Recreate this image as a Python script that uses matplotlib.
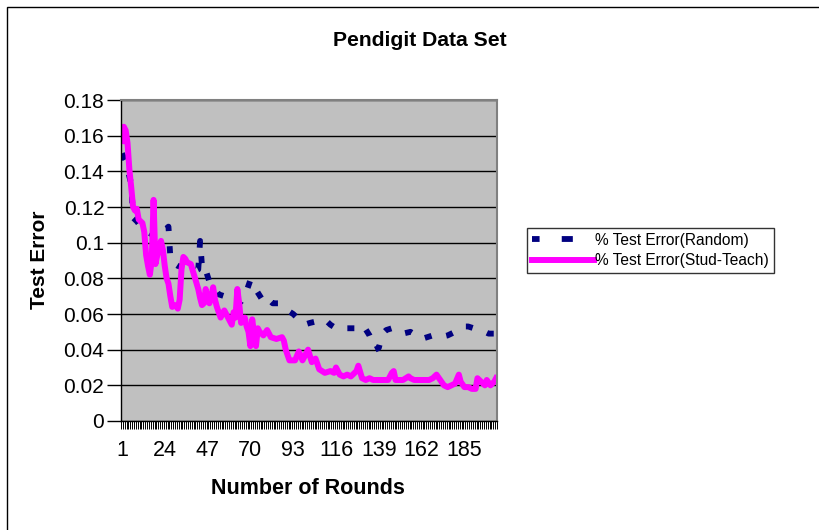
import matplotlib
matplotlib.use('Agg')
import matplotlib.pyplot as plt
from matplotlib.patches import Rectangle
from matplotlib.lines import Line2D
import numpy as np

plt.rcParams['font.family'] = ['Liberation Sans', 'DejaVu Sans']

n_rounds = 202

# % Test Error(Stud-Teach): (round, error)
teach_rounds = [1, 2, 3, 4, 5, 6, 7, 8, 9, 10, 12, 13, 14, 15, 16, 17, 18, 19, 20, 21,
                22, 23, 24, 25, 26, 27, 28, 30, 31, 32, 33, 34, 35, 36, 38, 40, 42, 43, 44, 45,
                46, 47, 48, 49, 50, 51, 52, 54, 55, 56, 57, 58, 60, 61, 62, 63, 64, 65, 66, 67,
                68, 69, 70, 71, 72, 73, 74, 75, 77, 79, 81, 84, 87, 88, 89, 91, 94, 96, 98, 100,
                101, 103, 105, 107, 110, 113, 115, 116, 117, 118, 120, 122, 124, 126, 127, 128, 130, 132, 134, 136,
                138, 140, 142, 144, 146, 147, 148, 150, 152, 155, 156, 158, 161, 163, 166, 168, 170, 172, 174, 176,
                178, 180, 182, 183, 185, 187, 189, 191, 192, 194, 196, 197, 199, 201, 202]
teach_err = [0.157, 0.165, 0.163, 0.156, 0.141, 0.131, 0.120, 0.118, 0.119, 0.113, 0.111, 0.106, 0.093, 0.087, 0.082, 0.090, 0.124, 0.088, 0.093, 0.098,
             0.101, 0.096, 0.087, 0.080, 0.077, 0.070, 0.064, 0.065, 0.063, 0.068, 0.085, 0.092, 0.091, 0.089, 0.088, 0.081, 0.074, 0.069, 0.065, 0.066,
             0.074, 0.068, 0.066, 0.070, 0.075, 0.068, 0.064, 0.058, 0.060, 0.062, 0.060, 0.058, 0.054, 0.061, 0.058, 0.074, 0.066, 0.055, 0.057, 0.058,
             0.053, 0.050, 0.042, 0.057, 0.049, 0.042, 0.052, 0.050, 0.048, 0.051, 0.047, 0.046, 0.047, 0.045, 0.040, 0.034, 0.034, 0.039, 0.034, 0.038,
             0.040, 0.033, 0.035, 0.029, 0.027, 0.028, 0.027, 0.030, 0.028, 0.026, 0.025, 0.026, 0.025, 0.027, 0.028, 0.031, 0.024, 0.023, 0.024, 0.023,
             0.023, 0.023, 0.023, 0.023, 0.027, 0.028, 0.023, 0.023, 0.023, 0.025, 0.024, 0.023, 0.023, 0.023, 0.023, 0.024, 0.026, 0.023, 0.020, 0.019,
             0.020, 0.021, 0.026, 0.022, 0.019, 0.019, 0.018, 0.018, 0.024, 0.022, 0.020, 0.023, 0.020, 0.022, 0.024]

# % Test Error(Random)
random_rounds = [1, 3, 5, 6, 7, 9, 12, 15, 18, 21, 24, 26, 27, 28, 31, 34, 37, 40, 42, 43,
                 44, 45, 48, 51, 53, 56, 59, 62, 65, 68, 70, 71, 74, 77, 79, 82, 85, 88, 90, 93,
                 96, 99, 102, 106, 110, 113, 116, 119, 122, 126, 129, 131, 134, 137, 139, 141, 143, 146, 149, 152,
                 156, 159, 162, 165, 168, 172, 176, 180, 184, 187, 190, 194, 198, 202]
random_err = [0.150, 0.146, 0.137, 0.133, 0.114, 0.112, 0.108, 0.106, 0.104, 0.103, 0.107, 0.109, 0.092, 0.089, 0.087, 0.086, 0.085, 0.084, 0.085, 0.101,
              0.087, 0.088, 0.078, 0.074, 0.071, 0.070, 0.067, 0.065, 0.067, 0.073, 0.079, 0.077, 0.072, 0.067, 0.069, 0.066, 0.066, 0.064, 0.062, 0.060,
              0.057, 0.054, 0.055, 0.056, 0.057, 0.054, 0.052, 0.053, 0.052, 0.052, 0.051, 0.053, 0.048, 0.040, 0.041, 0.049, 0.051, 0.052, 0.050, 0.049,
              0.050, 0.048, 0.046, 0.047, 0.048, 0.047, 0.048, 0.050, 0.053, 0.053, 0.052, 0.051, 0.049, 0.049]

x_labels = [1, 24, 47, 70, 93, 116, 139, 162, 185]
y_ticks = [0, 0.02, 0.04, 0.06, 0.08, 0.1, 0.12, 0.14, 0.16, 0.18]

navy = '#000080'
pink = '#ff00ff'

fig = plt.figure(figsize=(8.2, 5.3), dpi=100)
fig.patches.append(Rectangle((7 / 820, -0.1), 2, 1 - 7 / 530 + 0.1, transform=fig.transFigure,
                             fill=False, edgecolor='black', linewidth=1.0))

ax = fig.add_axes([121 / 820, 1 - 421 / 530, 376 / 820, 321 / 530])
ax.set_facecolor('#c0c0c0')

ax.plot(random_rounds, random_err, color=navy, linewidth=4.2,
        linestyle=(0, (1.2, 2.6)), solid_capstyle='butt')
ax.plot(teach_rounds, teach_err, color=pink, linewidth=4.3, solid_joinstyle='round')

ax.set_xlim(0.5, n_rounds + 0.5)
ax.set_ylim(0, 0.18)
ax.set_yticks(y_ticks)
ax.set_yticklabels([f'{v:g}' for v in y_ticks])
ax.set_xticks(x_labels)
ax.set_xticklabels([str(v) for v in x_labels])
ax.set_xticks(np.arange(0.5, n_rounds + 1), minor=True)
ax.tick_params(axis='x', which='major', length=0, pad=14, labelsize=15.5)
ax.tick_params(axis='x', which='minor', length=6, width=0.7, direction='out')
ax.tick_params(axis='y', which='major', length=10, width=1, pad=2, labelsize=15)
ax.grid(axis='y', color='black', linewidth=1.0)
ax.set_axisbelow(True)
for side in ['top', 'right']:
    ax.spines[side].set_color('#808080')
    ax.spines[side].set_linewidth(1.5)
for side in ['left', 'bottom']:
    ax.spines[side].set_color('black')
    ax.spines[side].set_linewidth(1.0)

fig.text(420 / 820, 1 - 40 / 530, 'Pendigit Data Set', ha='center', va='center',
         fontsize=15.2, fontweight='bold')
fig.text(308 / 820, 1 - 489 / 530, 'Number of Rounds', ha='center', va='center',
         fontsize=15.5, fontweight='bold')
fig.text(40 / 820, 1 - 260 / 530, 'Test Error', ha='center', va='center', rotation=90,
         fontsize=15, fontweight='bold')

handles = [Line2D([], [], color=navy, linewidth=4.2, linestyle=(0.6, (1.9, 3.8)),
                  solid_capstyle='butt'),
           Line2D([], [], color=pink, linewidth=4.3)]
leg = fig.legend(handles, ['% Test Error(Random)', '% Test Error(Stud-Teach)'],
                 loc='upper left', bbox_to_anchor=(527 / 820, 1 - 228 / 530), fontsize=11.2,
                 frameon=True, fancybox=False, edgecolor='black', handlelength=4.0,
                 handletextpad=0.1, borderpad=0.3, labelspacing=0.35, borderaxespad=0)
leg.get_frame().set_linewidth(1.0)

fig.savefig('out.png', dpi=100)
